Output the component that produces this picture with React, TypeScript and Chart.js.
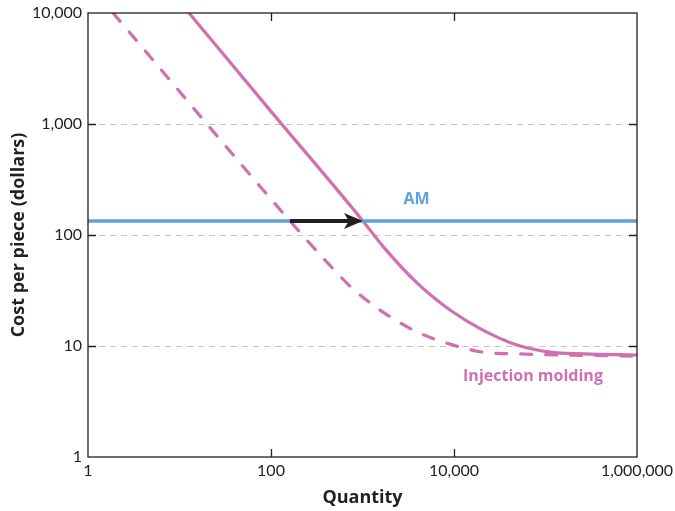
import { useEffect, useRef } from 'react';
import { Chart, registerables } from 'chart.js';
Chart.register(...registerables);

const solidQty = [12.7, 100, 1010, 1675, 3940, 9040, 20700, 48800, 112000, 257000, 1000000];
const solidCost = [10000, 1300, 134, 79, 37, 21.1, 13.9, 10.2, 8.8, 8.5, 8.3];
const dashedQty = [1.88, 161, 400, 787, 1675, 3940, 9040, 20700, 48800, 1000000];
const dashedCost = [10000, 134, 58, 32.7, 20.2, 13.4, 10.4, 8.8, 8.5, 8.1];
const amQty = [1, 1000000];
const amCost = [134, 134];
const arrowQty = [161, 1010];
const arrowCost = 134;
const xTicks = [1, 100, 10000, 1000000];
const yTicks = [1, 10, 100, 1000, 10000];
const amLabel = { text: 'AM', qty: 3900, cost: 207 };
const imLabel = { text: 'Injection molding', qty: 73000, cost: 5.3 };

const PINK = '#d170b0';
const BLUE = '#5fa2d8';
const FONT = 'Lato, "Open Sans", sans-serif';
const BFONT = '"Open Sans", Lato, sans-serif';

const fmt = (v: number) => v.toLocaleString('en-US');

export default function App() {
  const ref = useRef<HTMLCanvasElement>(null);
  useEffect(() => {
    document.body.style.margin = '0';
    const frame = {
      id: 'frame',
      afterDatasetsDraw(chart: any) {
        const { ctx, chartArea: a, scales } = chart;
        const x = scales.x, y = scales.y;
        ctx.save();
        // arrow
        const x0 = x.getPixelForValue(arrowQty[0]);
        const x1 = x.getPixelForValue(arrowQty[1]);
        const yy = y.getPixelForValue(arrowCost);
        ctx.strokeStyle = '#231f20';
        ctx.fillStyle = '#231f20';
        ctx.lineWidth = 4;
        ctx.beginPath();
        ctx.moveTo(x0, yy);
        ctx.lineTo(x1 - 12, yy);
        ctx.stroke();
        ctx.beginPath();
        ctx.moveTo(x1, yy);
        ctx.lineTo(x1 - 19, yy - 8);
        ctx.lineTo(x1 - 14, yy);
        ctx.lineTo(x1 - 19, yy + 8);
        ctx.closePath();
        ctx.fill();
        // frame
        ctx.strokeStyle = '#231f20';
        ctx.lineWidth = 1.3;
        ctx.strokeRect(a.left, a.top, a.right - a.left, a.bottom - a.top);
        // ticks
        for (const v of xTicks.slice(1, -1)) {
          const px = Math.round(x.getPixelForValue(v)) + 0.5;
          ctx.beginPath();
          ctx.moveTo(px, a.bottom); ctx.lineTo(px, a.bottom - 8);
          ctx.moveTo(px, a.top); ctx.lineTo(px, a.top + 8);
          ctx.stroke();
        }
        for (const v of yTicks.slice(1, -1)) {
          const py = Math.round(y.getPixelForValue(v)) + 0.5;
          ctx.beginPath();
          ctx.moveTo(a.left, py); ctx.lineTo(a.left + 8, py);
          ctx.moveTo(a.right, py); ctx.lineTo(a.right - 8, py);
          ctx.stroke();
        }
        // labels
        ctx.font = `bold 16px ${BFONT}`;
        ctx.textAlign = 'center';
        ctx.textBaseline = 'middle';
        ctx.fillStyle = BLUE;
        ctx.fillText(amLabel.text, x.getPixelForValue(amLabel.qty), y.getPixelForValue(amLabel.cost));
        ctx.fillStyle = PINK;
        ctx.fillText(imLabel.text, x.getPixelForValue(imLabel.qty), y.getPixelForValue(imLabel.cost));
        ctx.restore();
      },
    };
    const toPts = (xs: number[], ys: number[]) => xs.map((q, i) => ({ x: q, y: ys[i] }));
    const chart = new Chart(ref.current!, {
      type: 'line',
      data: {
        datasets: [
          {
            data: toPts(amQty, amCost),
            borderColor: BLUE,
            borderWidth: 3.5,
            pointRadius: 0,
          },
          {
            data: toPts(dashedQty, dashedCost),
            borderColor: PINK,
            borderWidth: 3.2,
            borderDash: [11, 14],
            borderCapStyle: 'round',
            pointRadius: 0,
            cubicInterpolationMode: 'monotone',
          },
          {
            data: toPts(solidQty, solidCost),
            borderColor: PINK,
            borderWidth: 3.2,
            pointRadius: 0,
            cubicInterpolationMode: 'monotone',
          },
        ],
      },
      options: {
        animation: false,
        responsive: true,
        maintainAspectRatio: false,
        layout: { padding: { top: 13, right: 38, left: 0, bottom: 0 } },
        plugins: { legend: { display: false }, tooltip: { enabled: false } },
        scales: {
          x: {
            type: 'logarithmic',
            min: 1,
            max: 1000000,
            afterBuildTicks: (s: any) => { s.ticks = xTicks.map((v) => ({ value: v })); },
            afterFit: (s: any) => { s.height = 54; s.paddingLeft = 0; s.paddingRight = 0; },
            grid: { display: false, drawTicks: false },
            border: { display: false },
            ticks: {
              padding: 4,
              maxRotation: 0,
              autoSkip: false,
              color: '#231f20',
              font: { family: FONT, size: 16 },
              callback: (v: any) => fmt(Number(v)),
            },
            title: {
              display: true,
              text: 'Quantity',
              color: '#231f20',
              font: { family: BFONT, size: 18, weight: 'bold' },
              padding: { top: 0, bottom: 2 },
            },
          },
          y: {
            type: 'logarithmic',
            min: 1,
            max: 10000,
            afterBuildTicks: (s: any) => { s.ticks = yTicks.map((v) => ({ value: v })); },
            afterFit: (s: any) => { s.width = 88; s.paddingTop = 0; s.paddingBottom = 0; },
            grid: {
              drawTicks: false,
              color: (c: any) => (c.tick && (c.tick.value === 1 || c.tick.value === 10000) ? 'rgba(0,0,0,0)' : '#c4c4c4'),
              lineWidth: 1,
            },
            border: { display: false, dash: [6, 5] },
            ticks: {
              padding: 6,
              autoSkip: false,
              color: '#231f20',
              font: { family: FONT, size: 16 },
              callback: (v: any) => fmt(Number(v)),
            },
            title: {
              display: true,
              text: 'Cost per piece (dollars)',
              color: '#231f20',
              font: { family: BFONT, size: 18, weight: 'bold' },
              padding: { top: 8, bottom: 0 },
            },
          },
        },
      },
      plugins: [frame],
    });
    return () => chart.destroy();
  }, []);
  return (
    <div style={{ width: 675, height: 511, position: 'relative' }}>
      <canvas ref={ref} />
    </div>
  );
}
